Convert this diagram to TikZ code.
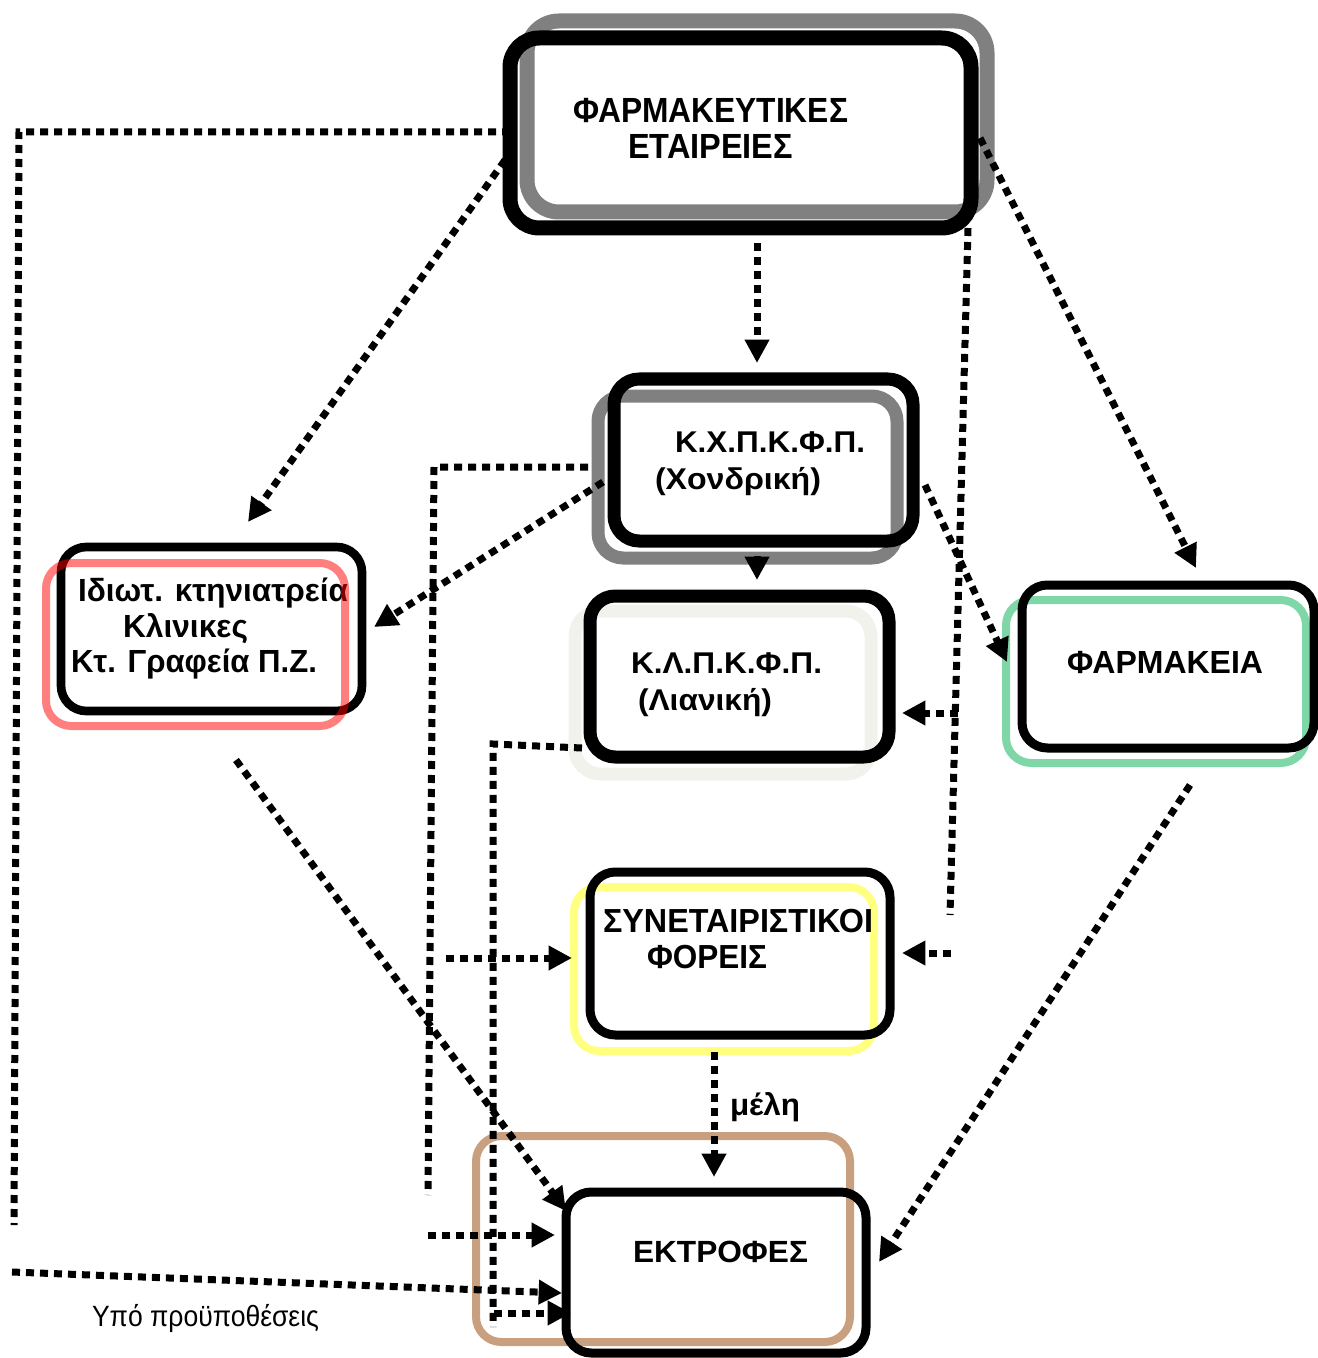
\documentclass[tikz,border=0pt]{standalone}
\usepackage{fontspec}
\setmainfont{Liberation Sans}
\usepackage{graphicx}
\usetikzlibrary{arrows.meta,fit}
\newdimen\pxu \pxu=0.75pt
\newcommand\fitw[2]{\resizebox{#1\pxu}{\height}{#2}}
\definecolor{gframe}{HTML}{808080}
\definecolor{lframe}{HTML}{F2F2EC}
\definecolor{grnframe}{HTML}{7FD7A7}
\definecolor{yelframe}{HTML}{FFFF80}
\definecolor{tanframe}{HTML}{C9A07F}
\begin{document}
\begin{tikzpicture}[x=0.75pt,y=-0.75pt,
  frame/.style={draw, inner sep=0pt, outer sep=0pt, rounded corners=19pt},
  txt/.style={inner sep=0pt, outer sep=0pt, anchor=base west},
  bfa/.style={font=\fontsize{#1}{#1}\selectfont\bfseries},
  dl/.style={line width=5.25pt, dash pattern=on 6pt off 4.5pt},
  arr/.style={-{Triangle[length=17.5pt,width=17.5pt]}}]
\useasboundingbox (0,0) rectangle (1317,1358);

% coloured / gray frames (behind)
\node[frame, draw=gframe, line width=11.25pt, rounded corners=24pt, fit={(527,21) (987,212)}] (topg) {};
\node[frame, draw=gframe, line width=9.75pt, fit={(598,396) (897,558)}] (kxg) {};
\node[frame, draw=lframe, line width=9.75pt, fit={(575,611) (871,774)}] (klg) {};
\node[frame, draw=grnframe, line width=6pt, fit={(1006,600) (1306,763)}] (phg) {};
\node[frame, draw=yelframe, line width=6pt, fit={(574,887) (874,1051)}] (syg) {};
\node[frame, draw=tanframe, line width=6pt, fit={(476,1136) (850,1342)}] (ekg) {};

% black frames
\node[frame, line width=11.25pt, rounded corners=22pt, fit={(510,38) (971,228)}] (top) {};
\node[frame, line width=9.75pt, fit={(614,379) (913,541)}] (kx) {};
\node[frame, line width=9.75pt, fit={(590,596) (889,757)}] (kl) {};
\node[frame, line width=6.5pt, fit={(61,547) (362,711)}] (left) {};
\node[frame, line width=6.75pt, fit={(1022,585) (1314,748)}] (ph) {};
\node[frame, line width=6.75pt, fit={(590,872) (890,1035)}] (sy) {};
\node[frame, line width=6.75pt, fit={(566,1192) (866,1353)}] (ek) {};

% texts
\node[txt, bfa=26.2] (t1) at (573,123) {\fitw{275}{ΦΑΡΜΑΚΕΥΤΙΚΕΣ}};
\node[txt, bfa=26.2] (t2) at (628,159) {\fitw{165}{ΕΤΑΙΡΕΙΕΣ}};
\node[txt, bfa=22.5] (t3) at (675,452) {\fitw{190}{Κ.Χ.Π.Κ.Φ.Π.}};
\node[txt, bfa=22.5] (t4) at (655,489) {\fitw{166}{(Χονδρική)}};
\node[txt, bfa=22.5] (t5) at (631,673) {\fitw{191}{Κ.Λ.Π.Κ.Φ.Π.}};
\node[txt, bfa=22.5] (t6) at (638,710) {\fitw{134}{(Λιανική)}};
\node[txt, bfa=24] (t7) at (78,601) {\fitw{270}{Ιδιωτ. κτηνιατρεία}};
\node[txt, bfa=24] (t8) at (123,637) {\fitw{125}{Κλινικες}};
\node[txt, bfa=24] (t9) at (71,672) {\fitw{246}{Κτ. Γραφεία Π.Ζ.}};
\node[txt, bfa=24] (t10) at (1067,673) {\fitw{196}{ΦΑΡΜΑΚΕΙΑ}};
\node[txt, bfa=25] (t11) at (603,932) {\fitw{270}{ΣΥΝΕΤΑΙΡΙΣΤΙΚΟΙ}};
\node[txt, bfa=25] (t12) at (647,968) {\fitw{120}{ΦΟΡΕΙΣ}};
\node[txt, bfa=23] (t13) at (633,1262) {\fitw{175}{ΕΚΤΡΟΦΕΣ}};
\node[txt, bfa=23] (t14) at (730,1115) {\fitw{70}{μέλη}};
\node[txt, font=\fontsize{22}{22}\selectfont] (t15) at (92,1326) {\fitw{227}{Υπό προϋποθέσεις}};

% red frame, semi-transparent, on top
\node[frame, draw=red, draw opacity=0.5, line width=6pt, fit={(46,563) (345,726)}] (leftr) {};

% connector end points
\coordinate (a0) at (510,132); \coordinate (a1) at (19,132); \coordinate (a2) at (14,1225);
\coordinate (b0) at (505,160); \coordinate (b1) at (248,522);
\coordinate (c0) at (757,243); \coordinate (c1) at (757,363);
\coordinate (d0) at (980,138); \coordinate (d1) at (1196,568);
\coordinate (e0) at (968,228); \coordinate (e1) at (950,915);
\coordinate (e2) at (958,713); \coordinate (e3) at (902,713);
\coordinate (e4) at (951,953); \coordinate (e5) at (902,953);
\coordinate (f0) at (757,556); \coordinate (f1) at (757,580);
\coordinate (g0) at (603,482); \coordinate (g1) at (374,627);
\coordinate (h0) at (925,485); \coordinate (h1) at (1007,662);
\coordinate (i0) at (588,467); \coordinate (i1) at (434,467); \coordinate (i2) at (428,1195);
\coordinate (i3) at (446,958); \coordinate (i4) at (572,958);
\coordinate (i5) at (428,1235); \coordinate (i6) at (555,1235);
\coordinate (j0) at (582,748); \coordinate (j1) at (493,744); \coordinate (j2) at (493,1327);
\coordinate (j3) at (494,1313); \coordinate (j4) at (571,1313);
\coordinate (k0) at (236,760); \coordinate (k1) at (566,1211);
\coordinate (l0) at (1190,785); \coordinate (l1) at (879,1262);
\coordinate (m0) at (714,1052); \coordinate (m1) at (714,1177);
\coordinate (n0) at (12,1272); \coordinate (n1) at (562,1293);

% connectors
\draw[dl] (a0) -- (a1) -- (a2);
\draw[dl,arr] (b0) -- (b1);
\draw[dl,arr] (c0) -- (c1);
\draw[dl,arr] (d0) -- (d1);
\draw[dl] (e0) -- (e1);
\draw[dl,arr] (e2) -- (e3);
\draw[dl,arr] (e4) -- (e5);
\draw[dl,arr] (f0) -- (f1);
\draw[dl,arr] (g0) -- (g1);
\draw[dl,arr] (h0) -- (h1);
\draw[dl] (i0) -- (i1) -- (i2);
\draw[dl,arr] (i3) -- (i4);
\draw[dl,arr] (i5) -- (i6);
\draw[dl] (j0) -- (j1) -- (j2);
\draw[dl,arr] (j3) -- (j4);
\draw[dl,arr] (k0) -- (k1);
\draw[dl,arr] (l0) -- (l1);
\draw[dl,arr] (m0) -- (m1);
\draw[dl,arr] (n0) -- (n1);
\end{tikzpicture}
\end{document}
